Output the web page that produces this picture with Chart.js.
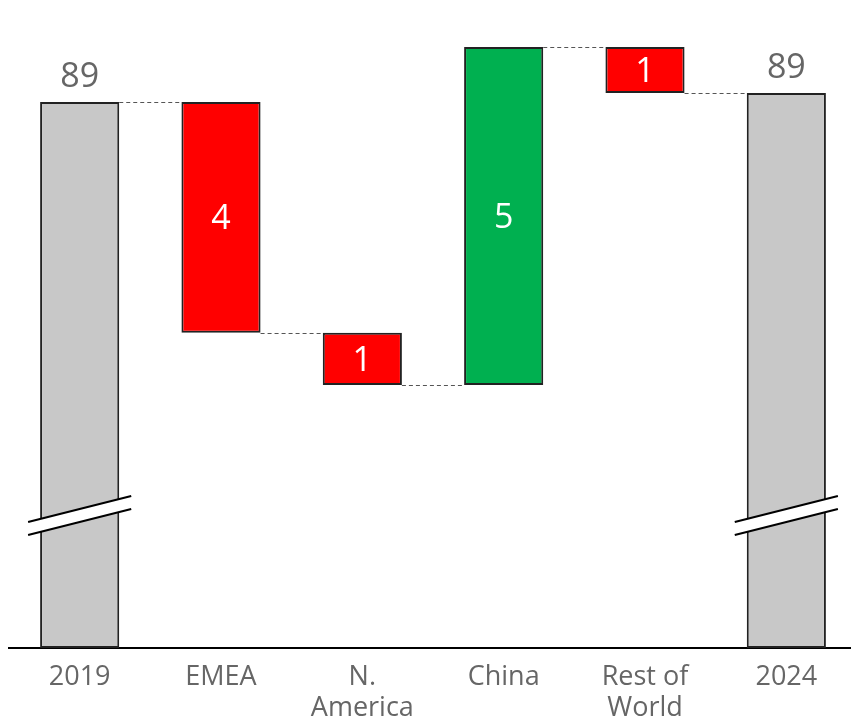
<!DOCTYPE html>
<html>
<head>
<meta charset="utf-8">
<script src="https://cdn.jsdelivr.net/npm/chart.js@4.4.1/dist/chart.umd.min.js"></script>
<style>
  html, body { margin: 0; padding: 0; background: #fff; overflow: hidden; }
  #wrap { position: absolute; left: 0; top: 0; width: 860px; height: 721px; }
</style>
</head>
<body>
<div id="wrap"><canvas id="chart"></canvas></div>
<script>
// Valeurs
const categories = ['2019', 'EMEA', ['N.', 'America'], 'China', ['Rest of', 'World'], '2024'];
const startValue = 88.86;
const changes = [-3.66, -0.83, 5.36, -0.73];
const endValue = 89.0;
const valueLabels = ['89', '4', '1', '5', '1', '89'];
const axisMin = 80.2;
const axisMax = 90.0;
const breakValue = 82.3;

// Construction des barres flottantes
const ranges = [[axisMin, startValue]];
const levels = [startValue];
let running = startValue;
changes.forEach(c => {
    const next = running + c;
    ranges.push([Math.min(running, next), Math.max(running, next)]);
    running = next;
    levels.push(running);
});
ranges.push([axisMin, endValue]);
levels.push(endValue);

const barColors = ranges.map((r, i) => {
    if (i === 0 || i === ranges.length - 1) return '#c8c8c8';
    return changes[i - 1] < 0 ? '#ff0000' : '#00b050';
});

const waterfallPlugin = {
    id: 'waterfall',
    afterDatasetsDraw(chart) {
        const ctx = chart.ctx;
        const meta = chart.getDatasetMeta(0);
        const y = chart.scales.y;
        const bars = meta.data;

        // Traits pointillés entre les barres
        ctx.save();
        ctx.strokeStyle = '#555';
        ctx.lineWidth = 1;
        ctx.setLineDash([4, 3]);
        for (let i = 0; i < bars.length - 1; i++) {
            const yy = Math.round(y.getPixelForValue(levels[i])) + 0.5;
            ctx.beginPath();
            ctx.moveTo(bars[i].x + bars[i].width / 2, yy);
            ctx.lineTo(bars[i + 1].x - bars[i + 1].width / 2, yy);
            ctx.stroke();
        }
        ctx.restore();

        // Coupures de l'axe sur les barres grises
        [0, bars.length - 1].forEach(i => {
            const b = bars[i];
            const cy = y.getPixelForValue(breakValue);
            const x1 = b.x - b.width / 2 - 12;
            const x2 = b.x + b.width / 2 + 12;
            const rise = 13;
            const gap = 6.5;
            ctx.save();
            ctx.fillStyle = '#fff';
            ctx.beginPath();
            ctx.moveTo(x1, cy + rise - gap);
            ctx.lineTo(x2, cy - rise - gap);
            ctx.lineTo(x2, cy - rise + gap);
            ctx.lineTo(x1, cy + rise + gap);
            ctx.closePath();
            ctx.fill();
            ctx.strokeStyle = '#000';
            ctx.lineWidth = 2;
            ctx.beginPath();
            ctx.moveTo(x1, cy + rise - gap);
            ctx.lineTo(x2, cy - rise - gap);
            ctx.moveTo(x1, cy + rise + gap);
            ctx.lineTo(x2, cy - rise + gap);
            ctx.stroke();
            ctx.restore();
        });

        // Étiquettes de valeurs
        ctx.save();
        ctx.font = '34px "Open Sans"';
        ctx.textAlign = 'center';
        ctx.textBaseline = 'middle';
        bars.forEach((b, i) => {
            const top = y.getPixelForValue(ranges[i][1]);
            const bottom = y.getPixelForValue(ranges[i][0]);
            if (i === 0 || i === bars.length - 1) {
                ctx.fillStyle = '#666';
                ctx.fillText(valueLabels[i], b.x, top - 25);
            } else {
                ctx.fillStyle = '#fff';
                ctx.fillText(valueLabels[i], b.x, (top + bottom) / 2 + 2);
            }
        });
        ctx.restore();
    }
};

new Chart(document.getElementById('chart'), {
    type: 'bar',
    data: {
        labels: categories,
        datasets: [{
            data: ranges,
            backgroundColor: barColors,
            borderColor: '#222',
            borderWidth: 2,
            borderSkipped: false,
            barPercentage: 0.56,
            categoryPercentage: 1
        }]
    },
    options: {
        responsive: true,
        maintainAspectRatio: false,
        animation: false,
        layout: { padding: { top: 30, left: 9, right: 3, bottom: 0 } },
        plugins: {
            legend: { display: false },
            tooltip: { enabled: false }
        },
        scales: {
            x: {
                grid: { display: false, drawTicks: false },
                border: { display: true, color: '#000', width: 2 },
                ticks: {
                    color: '#666',
                    padding: 14,
                    font: { family: 'Open Sans', size: 27, lineHeight: 1.15 }
                },
                afterFit(scale) { scale.height = 73; }
            },
            y: {
                display: false,
                min: axisMin,
                max: axisMax
            }
        }
    },
    plugins: [waterfallPlugin]
});
</script>
</body>
</html>
